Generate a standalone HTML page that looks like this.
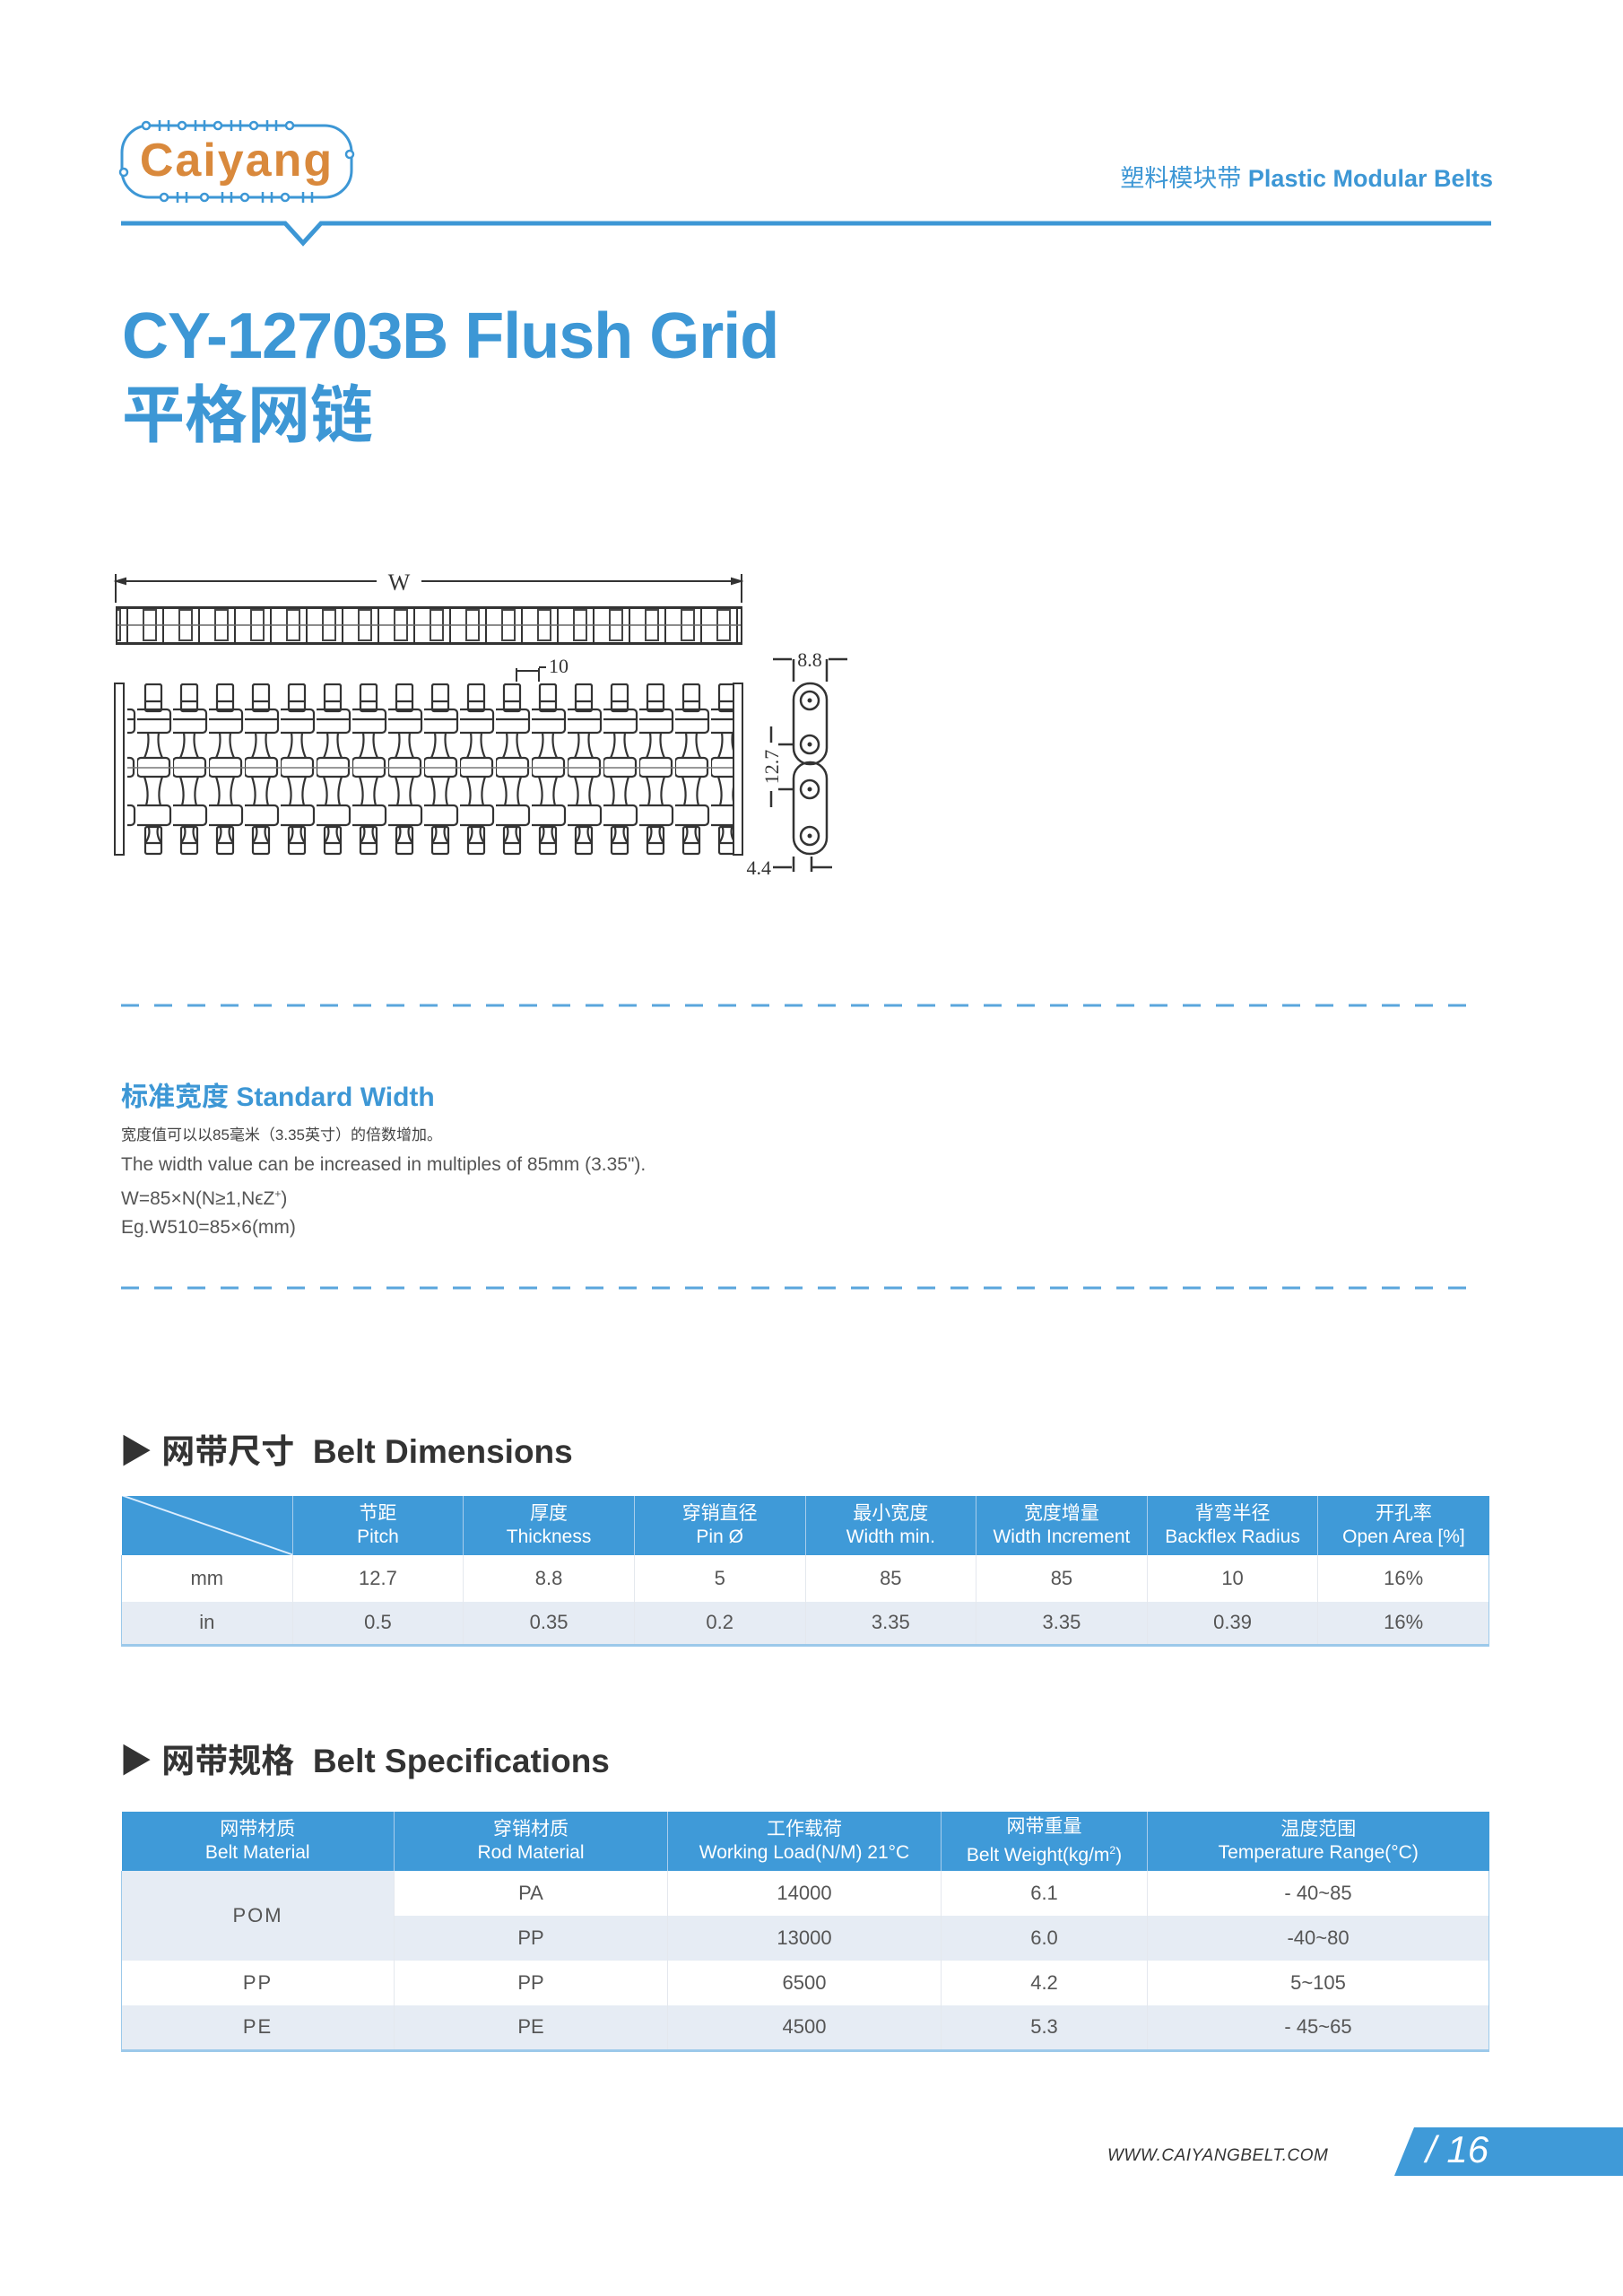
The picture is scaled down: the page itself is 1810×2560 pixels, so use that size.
<!DOCTYPE html>
<html><head><meta charset="utf-8">
<style>
body{margin:0;width:1810px;height:2560px;background:#fff;position:relative;font-family:"Liberation Sans","Noto Sans CJK SC",sans-serif;overflow:hidden}
.a{position:absolute;white-space:nowrap}
.blue{color:#3d97d5}
table{border-collapse:collapse;position:absolute;table-layout:fixed}
td{text-align:center;color:#555;font-size:22px;border-left:1px solid #e4e8ee;padding:0}
th{background:#3f9ad8;color:#fff;font-weight:normal;font-size:21px;line-height:26px;border-left:1px solid #a8cdec;padding:0}
tr.l td{background:#e6ecf4}
</style></head><body>
<!-- logo -->
<svg class="a" style="left:128px;top:132px" width="275" height="96" viewBox="0 0 275 96">
<rect x="8" y="8" width="256" height="80" rx="30" fill="none" stroke="#3d97d5" stroke-width="3"/>
<g fill="#fff" stroke="#3d97d5" stroke-width="2.5">
<circle cx="35" cy="8" r="4"/><circle cx="75" cy="8" r="4"/><circle cx="115" cy="8" r="4"/><circle cx="155" cy="8" r="4"/><circle cx="195" cy="8" r="4"/>
<circle cx="55" cy="88" r="4"/><circle cx="100" cy="88" r="4"/><circle cx="145" cy="88" r="4"/><circle cx="190" cy="88" r="4"/>
<circle cx="262" cy="40" r="4"/><circle cx="10" cy="60" r="4"/></g>
<g stroke="#3d97d5" stroke-width="2.5"><path d="M50 2v12M60 2v12M90 2v12M100 2v12M130 2v12M140 2v12M170 2v12M180 2v12M70 82v12M80 82v12M120 82v12M130 82v12M165 82v12M175 82v12M210 82v12M220 82v12"/></g>
<text x="136" y="64" text-anchor="middle" font-family="Liberation Sans" font-weight="bold" font-size="52" fill="#d9893c" letter-spacing="2">Caiyang</text>
</svg>
<div class="a blue" style="right:145px;top:177px;font-size:27px"><span style="font-weight:normal">塑料模块带</span> <b>Plastic Modular Belts</b></div>
<svg class="a" style="left:0;top:240px" width="1810" height="40">
<path d="M135 9H318L338 31L358 9H1663" fill="none" stroke="#3d97d5" stroke-width="5"/>
</svg>
<div class="a blue" style="left:136px;top:334px;font-size:72px;font-weight:bold;letter-spacing:-1px">CY-12703B Flush Grid</div>
<div class="a blue" style="left:136px;top:407px;font-size:70px;font-weight:bold">平格网链</div>

<!-- drawing -->
<svg class="a" style="left:0;top:620px" width="960" height="370" viewBox="0 620 960 370">
<defs>
<pattern id="tv" patternUnits="userSpaceOnUse" x="142" y="677" width="40" height="41">
<rect x="0" y="1" width="40" height="39" fill="none" stroke="#333" stroke-width="2"/>
<rect x="18" y="3" width="14" height="34" fill="none" stroke="#444" stroke-width="2"/>
<line x1="0" y1="20" x2="40" y2="20" stroke="#666" stroke-width="1.5"/>
</pattern>
<pattern id="pv" patternUnits="userSpaceOnUse" x="153" y="762" width="40" height="192">
<g fill="none" stroke="#333" stroke-width="2.2">
<rect x="9" y="1" width="18" height="30" rx="2"/>
<line x1="9" y1="20" x2="27" y2="20"/>
<rect x="-3" y="29" width="40" height="26" rx="4"/>
<line x1="-3" y1="40" x2="37" y2="40"/>
<path d="M12 55 Q14 70 8 83 M24 55 Q22 70 28 83"/>
<rect x="0" y="83" width="36" height="21" rx="4"/>
<line x1="-3" y1="94" x2="40" y2="94" stroke="#777" stroke-width="1.5"/>
<path d="M8 104 Q14 122 10 136 M28 104 Q22 122 26 136"/>
<rect x="-3" y="136" width="40" height="22" rx="4"/>
<path d="M12 158 Q16 168 9 178 M24 158 Q20 168 27 178"/>
<rect x="9" y="160" width="18" height="30" rx="2"/>
<line x1="9" y1="178" x2="27" y2="178"/>
</g>
</pattern>
</defs>
<g stroke="#333" stroke-width="2" fill="none">
<path d="M129 640V672M827 640V672M130 648H420M470 648H826"/>
<path d="M130 648l10 -3v6zM826 648l-10 -3v6z" fill="#333"/>
</g>
<text x="445" y="658" text-anchor="middle" font-family="Liberation Serif" font-size="26" fill="#333">W</text>
<rect x="130" y="677" width="697" height="41" fill="url(#tv)" stroke="#333" stroke-width="2"/>
<rect x="142" y="762" width="676" height="192" fill="url(#pv)"/>
<rect x="128" y="762" width="10" height="191" fill="none" stroke="#333" stroke-width="2"/>
<rect x="818" y="762" width="10" height="191" fill="none" stroke="#333" stroke-width="2"/>
<g stroke="#333" stroke-width="2" fill="none">
<path d="M576 760V745M601 760V745M576 748H601M601 744h8"/>
</g>
<text x="612" y="750" font-family="Liberation Serif" font-size="22" fill="#333">10</text>
<!-- side view -->
<g stroke="#333" stroke-width="2.5" fill="none">
<rect x="885" y="762" width="37" height="90" rx="18"/>
<rect x="885" y="850" width="37" height="102" rx="18"/>
<circle cx="903" cy="781" r="10"/><circle cx="903" cy="830" r="10"/><circle cx="903" cy="880" r="10"/><circle cx="903" cy="932" r="10"/>
<path d="M885 735V760M922 735V760M862 735H883M924 735H945M868 830H885M868 880H885M862 967H883M905 967H928M885 955V972M905 955V972"/>
<path d="M860 810V828M860 882V900"/>
</g>
<g fill="#333"><circle cx="903" cy="781" r="2.5"/><circle cx="903" cy="830" r="2.5"/><circle cx="903" cy="880" r="2.5"/><circle cx="903" cy="932" r="2.5"/></g>
<text x="903" y="743" text-anchor="middle" font-family="Liberation Serif" font-size="22" fill="#333">8.8</text>
<text x="860" y="975" text-anchor="end" font-family="Liberation Serif" font-size="22" fill="#333">4.4</text>
<text transform="translate(868 855) rotate(-90)" text-anchor="middle" font-family="Liberation Serif" font-size="22" fill="#333">12.7</text>
</svg>

<svg class="a" style="left:0;top:1110px" width="1810" height="340">
<g stroke="#5aa6dc" stroke-width="3" stroke-dasharray="20 17"><line x1="135" y1="11" x2="1648" y2="11"/><line x1="135" y1="326" x2="1648" y2="326"/></g>
</svg>
<div class="a blue" style="left:135px;top:1198px;font-size:30px;font-weight:bold">标准宽度 Standard Width</div>
<div class="a" style="left:135px;top:1251px;font-size:17px;color:#444">宽度值可以以85毫米（3.35英寸）的倍数增加。</div>
<div class="a" style="left:135px;top:1283px;font-size:21px;color:#555;line-height:32px">The width value can be increased in multiples of 85mm (3.35").<br>W=85×N(N≥1,NϵZ<sup style="font-size:12px">+</sup>)<br>Eg.W510=85×6(mm)</div>

<div class="a" style="left:133px;top:1588px;font-size:37px;font-weight:bold;color:#333">▶ 网带尺寸&nbsp; Belt Dimensions</div>
<table style="left:135px;top:1668px;width:1526px;border-bottom:3px solid #9cc9ea">
<tr style="height:66px"><th style="background:#3f9ad8 linear-gradient(to top right,transparent 49.5%,#dfefff 50%,#dfefff 51%,transparent 51.5%);border-left:none"></th><th>节距<br>Pitch</th><th>厚度<br>Thickness</th><th>穿销直径<br>Pin Ø</th><th>最小宽度<br>Width min.</th><th>宽度增量<br>Width Increment</th><th>背弯半径<br>Backflex Radius</th><th>开孔率<br>Open Area [%]</th></tr>
<tr style="height:52px"><td style="border-left:1px solid #9cc9ea">mm</td><td>12.7</td><td>8.8</td><td>5</td><td>85</td><td>85</td><td>10</td><td style="border-right:1px solid #9cc9ea">16%</td></tr>
<tr class="l" style="height:48px"><td style="border-left:1px solid #9cc9ea">in</td><td>0.5</td><td>0.35</td><td>0.2</td><td>3.35</td><td>3.35</td><td>0.39</td><td style="border-right:1px solid #9cc9ea">16%</td></tr>
</table>

<div class="a" style="left:133px;top:1933px;font-size:37px;font-weight:bold;color:#333">▶ 网带规格&nbsp; Belt Specifications</div>
<table style="left:135px;top:2020px;width:1525px;border-bottom:3px solid #9cc9ea">
<colgroup><col style="width:304px"><col style="width:305px"><col style="width:305px"><col style="width:230px"><col style="width:381px"></colgroup>
<tr style="height:66px"><th style="border-left:none">网带材质<br>Belt Material</th><th>穿销材质<br>Rod Material</th><th>工作载荷<br>Working Load(N/M) 21°C</th><th>网带重量<br>Belt Weight(kg/m<sup style="font-size:12px">2</sup>)</th><th>温度范围<br>Temperature Range(°C)</th></tr>
<tr style="height:50px"><td rowspan="2" style="background:#e6ecf4;border-left:1px solid #9cc9ea;letter-spacing:2px">POM</td><td>PA</td><td>14000</td><td>6.1</td><td style="border-right:1px solid #9cc9ea">- 40~85</td></tr>
<tr class="l" style="height:50px"><td>PP</td><td>13000</td><td>6.0</td><td style="border-right:1px solid #9cc9ea">-40~80</td></tr>
<tr style="height:50px"><td style="border-left:1px solid #9cc9ea;letter-spacing:2px">PP</td><td>PP</td><td>6500</td><td>4.2</td><td style="border-right:1px solid #9cc9ea">5~105</td></tr>
<tr class="l" style="height:50px"><td style="border-left:1px solid #9cc9ea;letter-spacing:2px">PE</td><td>PE</td><td>4500</td><td>5.3</td><td style="border-right:1px solid #9cc9ea">- 45~65</td></tr>
</table>

<div class="a" style="left:1235px;top:2393px;font-size:19px;font-style:italic;color:#333;letter-spacing:0.5px">WWW.CAIYANGBELT.COM</div>
<svg class="a" style="left:1555px;top:2372px" width="255" height="54"><polygon points="22,0 255,0 255,54 0,54" fill="#3f9ad8"/></svg>
<div class="a" style="left:1590px;top:2373px;font-size:42px;font-style:italic;color:#fff">/ 16</div>
</body></html>
